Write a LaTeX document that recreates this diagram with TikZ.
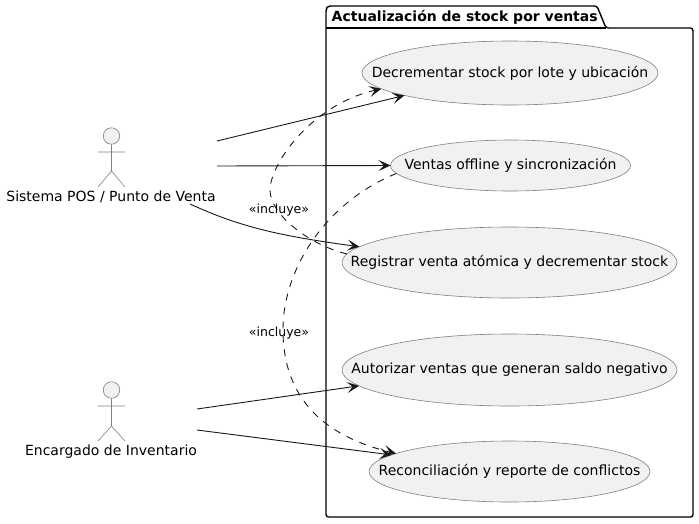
\documentclass[tikz,border=0pt]{standalone}
\usepackage{fontspec}
\setmainfont{DejaVu Sans}
\usetikzlibrary{arrows.meta,shapes.geometric}
\definecolor{fillc}{HTML}{F1F1F1}
\definecolor{linec}{HTML}{181818}
\newcommand\uctext[1]{\makebox[0pt]{\raisebox{-1pt}{#1}}}
\tikzset{
  uc/.style={ellipse,draw=linec!55,fill=fillc,line width=0.6pt,inner sep=0pt,outer sep=0pt,text=black,font=\fontsize{14}{16}\selectfont},
  lbl/.style={inner sep=0pt,outer sep=0pt,text=black,font=\fontsize{14}{16}\selectfont},
  small/.style={inner sep=0pt,outer sep=0pt,text=black,font=\fontsize{12.5}{15}\selectfont},
  actorline/.style={draw=linec!55,line width=0.6pt},
  conn/.style={draw=linec,line width=0.9pt,-{Stealth[length=12pt,width=11pt,inset=5.5pt]}},
  dconn/.style={conn,dash pattern=on 7pt off 7pt},
  pkg/.style={draw=black,line width=1.4pt,line join=round,rounded corners=2.5pt},
}
\begin{document}
\begin{tikzpicture}[x=1pt,y=-1pt]
\useasboundingbox (0,0) rectangle (699,523);
% package
\draw[pkg,fill=white] (326,28) -- (326,9) -- (328,6) -- (597,6) -- (606,28) -- (693,28) -- (693,517) -- (326,517) -- cycle;
\draw[pkg] (326,28) -- (606,28);
\node[inner sep=0pt,anchor=base west,font=\bfseries\fontsize{14}{16}\selectfont] (title) at (331.5,21) {Actualización de stock por ventas};
% use cases
\node[uc,minimum width=296pt,minimum height=64pt] (dec) at (510,73) {\uctext{Decrementar stock por lote y ubicación}};
\node[uc,minimum width=240pt,minimum height=51pt] (ven) at (510.5,165.5) {\uctext{Ventas offline y sincronización}};
\node[uc,minimum width=335pt,minimum height=71pt] (reg) at (509.5,262.5) {\uctext{Registrar venta atómica y decrementar stock}};
\node[uc,minimum width=335pt,minimum height=72pt] (aut) at (509.5,370) {\uctext{Autorizar ventas que generan saldo negativo}};
\node[uc,minimum width=281pt,minimum height=61pt] (rec) at (509.5,471.5) {\uctext{Reconciliación y reporte de conflictos}};
% actors
\node[circle,draw=linec!55,fill=fillc,line width=0.6pt,minimum size=16.5pt,inner sep=0pt] (pos) at (111.5,136) {};
\draw[actorline] (pos.south) -- (111.5,171) (98,152) -- (125,152) (98,187) -- (111.5,171) -- (125,187);
\node[lbl,anchor=base] (poslbl) at (111,201) {Sistema POS / Punto de Venta};
\node[circle,draw=linec!55,fill=fillc,line width=0.6pt,minimum size=16.5pt,inner sep=0pt] (enc) at (111.5,390) {};
\draw[actorline] (enc.south) -- (111.5,426) (98,406) -- (125,406) (98,441) -- (111.5,426) -- (125,441);
\node[lbl,anchor=base] (enclbl) at (111,455) {Encargado de Inventario};
% free ends
\coordinate (p1) at (217,141);
\coordinate (p2) at (217,166);
\coordinate (p3) at (190,204);
\coordinate (e1) at (197,409);
\coordinate (e2) at (197,430);
% connectors
\draw[conn] (p1) -- (dec.192);
\draw[conn] (p2) -- (ven.180);
\draw[conn] (p3) .. controls (240,227) and (280,236) .. (reg.174);
\draw[conn] (e1) -- (aut.186.5);
\draw[conn] (e2) -- (rec.172.3);
\draw[dconn] (reg.177.7) .. controls (310,245) and (270,215) .. (270,190) .. controls (270,165) and (310,105) .. (dec.187);
\draw[dconn] (ven.184.8) .. controls (330,200) and (283,265) .. (283,330) .. controls (283,395) and (320,435) .. (rec.171);
% labels
\node[small] (i1) at (279,210) {«incluye»};
\node[small] (i2) at (279,333) {«incluye»};
\end{tikzpicture}
\end{document}
